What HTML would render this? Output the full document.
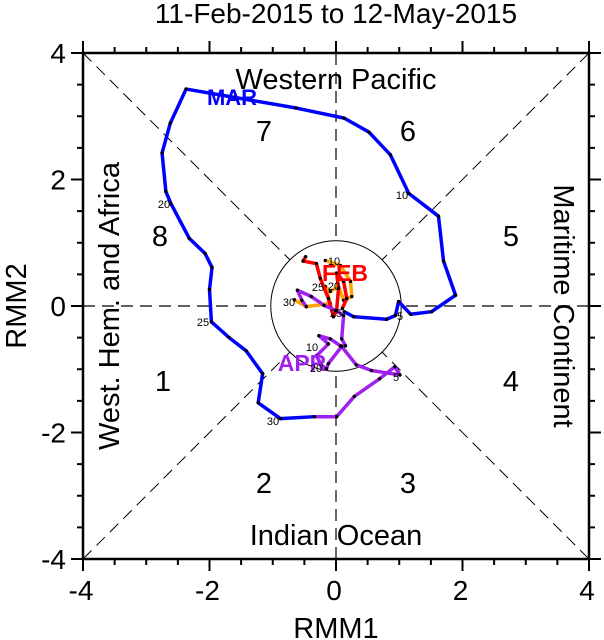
<!DOCTYPE html>
<html><head><meta charset="utf-8"><style>
html,body{margin:0;padding:0;background:#fff;width:604px;height:640px;overflow:hidden}
svg text{font-family:"Liberation Sans",sans-serif}
</style></head><body>
<svg id="chart" width="604" height="640" viewBox="0 0 604 640" xmlns="http://www.w3.org/2000/svg">
<text x="336" y="23" font-size="28" text-anchor="middle">11-Feb-2015 to 12-May-2015</text>
<g id="axes"></g>
<g id="series"></g>
</svg>
<script>
const ticksX=[-4,-2,0,2,4];
const ticksY=[-4,-2,0,2,4];
const febX=[-0.48,-0.52,-0.31,-0.25,-0.12,-0.04,0.01,0.04,0.01,0.12,0.17,0.10];
const febY=[0.78,0.71,0.67,0.44,0.12,-0.17,-0.07,0.28,0.52,0.39,0.12,-0.04];
const janX=[-0.17,0.07,0.23,0.25,0.12,0.04,-0.09,-0.17,-0.09,-0.47,-0.66];
const janY=[0.72,0.64,0.39,0.15,0.09,0.31,0.23,0.31,0.04,-0.01,0.10];
const marX=[0.13,0.28,0.80,0.94,0.99,1.18,1.51,1.89,1.70,1.62,1.15,0.86,0.52,0.13,-0.63,-2.37,-2.62,-2.75,-2.69,-2.61,-2.32,-2.07,-1.96,-2.00,-1.97,-1.69,-1.42,-1.16,-1.23,-0.88,-0.34];
const marY=[-0.09,-0.17,-0.21,-0.15,0.07,-0.13,-0.09,0.17,0.71,1.42,1.78,2.39,2.75,2.97,3.13,3.43,2.89,2.42,1.81,1.62,1.07,0.83,0.61,0.26,-0.25,-0.50,-0.71,-1.07,-1.53,-1.78,-1.75];
const aprX=[-0.34,0.01,0.29,0.69,0.93,1.01,0.56,0.32,0.09,-0.12,-0.15,-0.23,-0.31,-0.12,-0.27,-0.09,0.07,0.15,0.09,0.12,0.00,-0.19,-0.39,-0.61,-0.54,-0.47];
const aprY=[-1.75,-1.75,-1.43,-1.15,-0.96,-1.09,-1.02,-0.93,-0.64,-0.91,-0.99,-0.94,-0.79,-0.60,-0.47,-0.52,-0.63,-0.63,-0.52,-0.15,-0.07,0.01,0.15,0.25,0.09,-0.01];

const L=83,R=589,T=53,B=559;
const sx=v=>L+(v+4)/8*(R-L);
const sy=v=>B-(v+4)/8*(B-T);
const NS="http://www.w3.org/2000/svg";
function mk(tag,attrs,parent,text){const e=document.createElementNS(NS,tag);for(const k in attrs)e.setAttribute(k,attrs[k]);if(text!==undefined)e.textContent=text;parent.appendChild(e);return e;}
const ax=document.getElementById('axes');
const ser=document.getElementById('series');
const cx=sx(0),cy=sy(0);
let g;
g=mk('line',{x1:L,y1:cy,x2:R,y2:cy,stroke:'#000','stroke-dasharray':'12,7','stroke-width':1.2},ax);

g=mk('line',{x1:cx,y1:T,x2:cx,y2:B,stroke:'#000','stroke-dasharray':'12,7','stroke-width':1.2},ax);

g=mk('line',{x1:L,y1:T,x2:R,y2:B,stroke:'#000','stroke-dasharray':'12,7','stroke-width':1},ax);

g=mk('line',{x1:L,y1:B,x2:R,y2:T,stroke:'#000','stroke-dasharray':'12,7','stroke-width':1},ax);

g=mk('circle',{cx:cx,cy:cy,r:sx(1)-cx+2,fill:'#fff',stroke:'#000','stroke-width':1},ax);

g=mk('rect',{x:L,y:T,width:R-L,height:B-T,fill:'none',stroke:'#000','stroke-width':2.5},ax);

for(let v=-4;v<=4.001;v+=0.5){
 const major=Math.abs(v%2)<1e-6;const len=major?12:6;
 const x=sx(v),y=sy(v);
 mk('line',{x1:x,y1:T,x2:x,y2:T-len,stroke:'#000','stroke-width':2},ax);
 mk('line',{x1:x,y1:B,x2:x,y2:B+len,stroke:'#000','stroke-width':2},ax);
 mk('line',{x1:L,y1:y,x2:L-len,y2:y,stroke:'#000','stroke-width':2},ax);
 mk('line',{x1:R,y1:y,x2:R+len,y2:y,stroke:'#000','stroke-width':2},ax);
}
ticksX.forEach(v=>{const t=mk('text',{x:sx(v)-2,y:B+41,'font-size':28,'text-anchor':'middle'},ax,String(v));
});
ticksY.forEach(v=>{const t=mk('text',{x:L-17,y:sy(v)+10,'font-size':28,'text-anchor':'end'},ax,String(v));
});
let t;
t=mk('text',{x:cx,y:638,'font-size':29,'text-anchor':'middle'},ax,'RMM1');

t=mk('text',{x:0,y:0,'font-size':29,'text-anchor':'middle',transform:`translate(26,${cy}) rotate(-90)`},ax,'RMM2');

t=mk('text',{x:cx,y:89,'font-size':29,'text-anchor':'middle'},ax,'Western Pacific');

t=mk('text',{x:cx,y:545,'font-size':29,'text-anchor':'middle'},ax,'Indian Ocean');

t=mk('text',{x:0,y:0,'font-size':29,'text-anchor':'middle',transform:`translate(119,${cy}) rotate(-90)`},ax,'West. Hem. and Africa');

t=mk('text',{x:0,y:0,'font-size':29,'text-anchor':'middle',transform:`translate(554,${cy}) rotate(90)`},ax,'Maritime Continent');

const phases=[['7',264,141],['6',408,141],['8',160,246],['5',511,246],['1',163,391],['4',511,391],['2',264,493],['3',408,493]];
phases.forEach(p=>{const e=mk('text',{x:p[1],y:p[2],'font-size':29,'text-anchor':'middle'},ax,p[0]);
});
function series(X,Y,color,name){
 const pts=X.map((v,i)=>sx(v)+','+sy(Y[i])).join(' ');
 const pl=mk('polyline',{points:pts,fill:'none',stroke:color,'stroke-width':3.5,'stroke-linejoin':'round'},ser);
 
 
 X.forEach((v,i)=>{const c=mk('circle',{cx:sx(v),cy:sy(Y[i]),r:1.7,fill:'#000'},ser);
 
 });
}
series(janX,janY,'#ffa500','jan');
series(febX,febY,'#ff0000','feb');
series(marX,marY,'#0000ff','mar');
series(aprX,aprY,'#a020f0','apr');
const lbls=[['MAR',232,105,'#0000ff',22],['FEB',345,281,'#ff0000',23],['APR',302,371,'#a020f0',23]];
lbls.forEach(l=>{const e=mk('text',{x:l[1],y:l[2],'font-size':l[4],'font-weight':'bold','text-anchor':'middle',fill:l[3]},ser,l[0]);
});
const days=[['10',402,199],['20',164,208],['25',203,326],['30',273,425],['5',400,320],['30',289,306],['25',318,291],['20',334,290],['10',334,265],['25',336,317],['10',312,351],['20',316,372],['5',396,381]];
days.forEach(d=>{const e=mk('text',{x:d[1],y:d[2],'font-size':11,'text-anchor':'middle'},ser,d[0]);
});
</script>
</body></html>
